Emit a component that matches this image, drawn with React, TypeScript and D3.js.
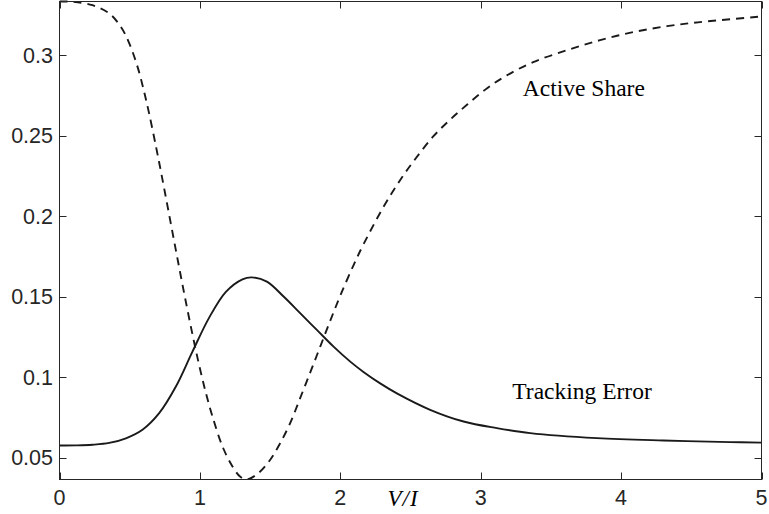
import React, { useEffect, useRef } from 'react';
import * as d3 from 'd3';

// values
const activeX = [0, 0.1, 0.235, 0.354, 0.437, 0.497, 0.556, 0.603, 0.639, 0.687, 0.722, 0.758, 0.793, 0.829, 0.865, 0.9, 0.947, 0.995, 1.043, 1.09, 1.161, 1.232, 1.29, 1.335, 1.417, 1.501, 1.572, 1.643, 1.714, 1.786, 1.857, 1.928, 1.999, 2.094, 2.165, 2.306, 2.427, 2.534, 2.662, 2.783, 2.904, 3.046, 3.189, 3.374, 3.616, 3.851, 4.086, 4.328, 4.563, 5];
const activeShare = [0.3333, 0.3331, 0.331, 0.3259, 0.3176, 0.3073, 0.2927, 0.2772, 0.2635, 0.2433, 0.2279, 0.2115, 0.1954, 0.1788, 0.1624, 0.1468, 0.1266, 0.1074, 0.0901, 0.0755, 0.057, 0.0446, 0.038, 0.0365, 0.0405, 0.0488, 0.0591, 0.0715, 0.087, 0.103, 0.119, 0.135, 0.1505, 0.1695, 0.1825, 0.2055, 0.2225, 0.2355, 0.2495, 0.26, 0.2693, 0.2795, 0.2876, 0.2957, 0.3031, 0.3093, 0.3143, 0.318, 0.3205, 0.324];

const trackingX = [0, 0.12, 0.235, 0.354, 0.473, 0.591, 0.71, 0.829, 0.947, 1.066, 1.185, 1.303, 1.37, 1.477, 1.596, 1.714, 1.833, 1.952, 2.071, 2.165, 2.284, 2.403, 2.64, 2.878, 3.115, 3.353, 3.828, 4.302, 4.777, 5];
const trackingError = [0.0576, 0.0577, 0.0581, 0.0592, 0.0621, 0.0674, 0.0777, 0.0942, 0.1159, 0.137, 0.153, 0.1608, 0.162, 0.1594, 0.1501, 0.1398, 0.1294, 0.119, 0.1097, 0.1033, 0.0962, 0.09, 0.0798, 0.0725, 0.0684, 0.0653, 0.0622, 0.0607, 0.0597, 0.0594];

const xTicks = [0, 1, 2, 3, 4, 5];
const yTicks = [0.05, 0.1, 0.15, 0.2, 0.25, 0.3];
const yTickLabels = ['0.05', '0.1', '0.15', '0.2', '0.25', '0.3'];

const labels = [
  { text: 'Active Share', x: 3.3, y: 0.2746 },
  { text: 'Tracking Error', x: 3.225, y: 0.0863 },
];

export default function App() {
  const ref = useRef<SVGSVGElement>(null);

  useEffect(() => {
    const width = 769;
    const height = 514;
    const svg = d3.select(ref.current);
    svg.selectAll('*').remove();
    svg.attr('width', width).attr('height', height);

    const x = d3.scaleLinear().domain([0, 5]).range([59.5, 761.5]);
    const y = d3.scaleLinear().domain([0.0365, 0.3333]).range([479.5, 1.5]);
    const axisColor = '#262626';
    const tickLen = 7;

    svg.append('defs').append('clipPath').attr('id', 'plotclip')
      .append('rect')
      .attr('x', x(0)).attr('y', y(0.3333) - 2)
      .attr('width', x(5) - x(0)).attr('height', y(0.0365) - y(0.3333) + 2);

    const lines = svg.append('g').attr('clip-path', 'url(#plotclip)');

    const line = d3.line<[number, number]>()
      .x((d) => x(d[0]))
      .y((d) => y(d[1]))
      .curve(d3.curveCatmullRom.alpha(0.5));

    lines.append('path')
      .attr('d', line(activeX.map((v, i) => [v, activeShare[i]] as [number, number])))
      .attr('fill', 'none')
      .attr('stroke', '#1a1a1a')
      .attr('stroke-width', 1.9)
      .attr('stroke-dasharray', '8,6');

    lines.append('path')
      .attr('d', line(trackingX.map((v, i) => [v, trackingError[i]] as [number, number])))
      .attr('fill', 'none')
      .attr('stroke', '#1a1a1a')
      .attr('stroke-width', 1.9);

    // box
    const frame = svg.append('g').attr('stroke', axisColor).attr('stroke-width', 1).attr('fill', 'none');
    frame.append('rect')
      .attr('x', x(0)).attr('y', y(0.3333))
      .attr('width', x(5) - x(0)).attr('height', y(0.0365) - y(0.3333));

    xTicks.forEach((t) => {
      const px = Math.round(x(t)) + 0.5;
      frame.append('line').attr('x1', px).attr('x2', px).attr('y1', y(0.0365)).attr('y2', y(0.0365) - tickLen);
      frame.append('line').attr('x1', px).attr('x2', px).attr('y1', y(0.3333)).attr('y2', y(0.3333) + tickLen);
    });
    yTicks.forEach((t) => {
      const py = Math.round(y(t)) + 0.5;
      frame.append('line').attr('x1', x(0)).attr('x2', x(0) + tickLen).attr('y1', py).attr('y2', py);
      frame.append('line').attr('x1', x(5)).attr('x2', x(5) - tickLen).attr('y1', py).attr('y2', py);
    });

    const tickFont = '"Liberation Sans", Arial, sans-serif';
    svg.append('g').selectAll('text')
      .data(xTicks)
      .enter()
      .append('text')
      .attr('x', (d) => x(d))
      .attr('y', 505)
      .attr('text-anchor', 'middle')
      .attr('font-family', tickFont)
      .attr('font-size', 21.5)
      .attr('fill', axisColor)
      .text((d) => String(d));

    svg.append('g').selectAll('text')
      .data(yTicks)
      .enter()
      .append('text')
      .attr('x', 53)
      .attr('y', (d) => y(d))
      .attr('dy', '0.35em')
      .attr('text-anchor', 'end')
      .attr('font-family', tickFont)
      .attr('font-size', 21.5)
      .attr('fill', axisColor)
      .text((d, i) => yTickLabels[i]);

    // x label
    svg.append('text')
      .attr('x', 403)
      .attr('y', 506)
      .attr('text-anchor', 'middle')
      .attr('font-family', '"Liberation Serif", "Times New Roman", serif')
      .attr('font-style', 'italic')
      .attr('font-size', 23)
      .attr('letter-spacing', 1)
      .attr('fill', '#000')
      .text('V/I');

    svg.append('g').selectAll('text')
      .data(labels)
      .enter()
      .append('text')
      .attr('x', (d) => x(d.x))
      .attr('y', (d) => y(d.y))
      .attr('font-family', '"Liberation Serif", "Times New Roman", serif')
      .attr('font-size', 23.5)
      .attr('fill', '#000')
      .text((d) => d.text);
  }, []);

  return (
    <div style={{ position: 'absolute', left: 0, top: 0 }}>
      <svg ref={ref} style={{ display: 'block', background: '#fff' }}></svg>
    </div>
  );
}
